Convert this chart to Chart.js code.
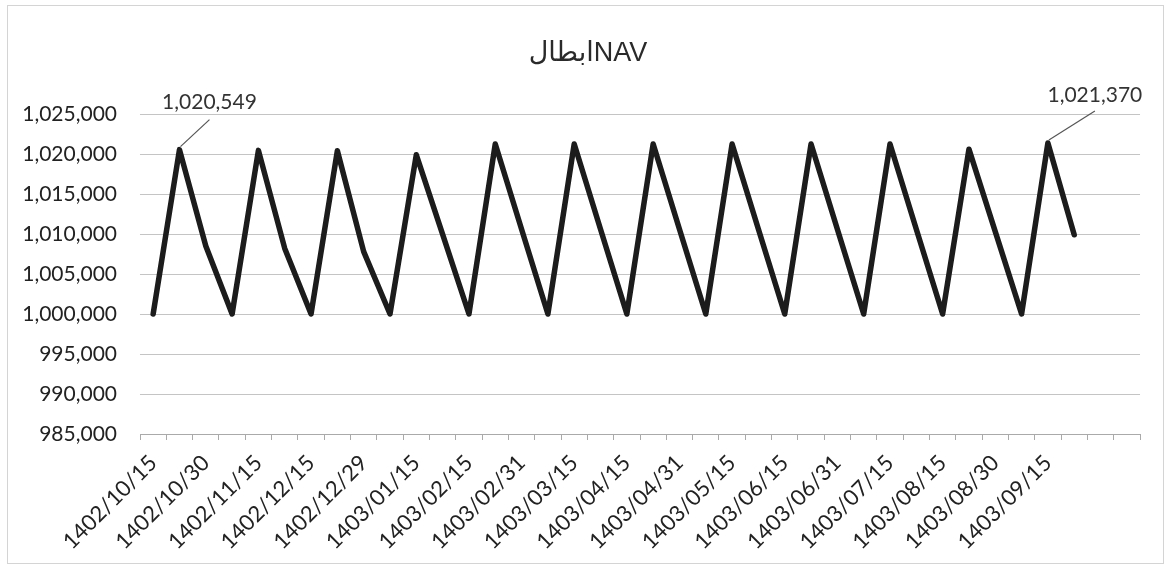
<!DOCTYPE html>
<html>
<head>
<meta charset="utf-8">
<script src="https://cdn.jsdelivr.net/npm/chart.js@4"></script>
<style>
  body { margin: 0; background: #fff; }
  #wrap { width: 1171px; height: 567px; position: relative; }
</style>
</head>
<body>
<div id="wrap"><canvas id="navChart"></canvas></div>
<script>
// tick labels shown under every second category
var tickLabels = [
  '1402/10/15', '1402/10/30', '1402/11/15', '1402/12/15', '1402/12/29',
  '1403/01/15', '1403/02/15', '1403/02/31', '1403/03/15', '1403/04/15',
  '1403/04/31', '1403/05/15', '1403/06/15', '1403/06/31', '1403/07/15',
  '1403/08/15', '1403/08/30', '1403/09/15'
]
// NAV values, one per category
var navValues = [
  1000000, 1020549, 1008500,
  1000000, 1020450, 1008200,
  1000000, 1020400, 1007800,
  1000000, 1019900, 1009950,
  1000000, 1021250, 1010600,
  1000000, 1021250, 1010600,
  1000000, 1021250, 1010600,
  1000000, 1021250, 1010600,
  1000000, 1021250, 1010600,
  1000000, 1021250, 1010600,
  1000000, 1020600, 1010300,
  1000000, 1021370, 1009900
]
var categoryCount = 38
var labelledPoints = [1, 34]   // indices that carry a value label
var chartTitle = 'ابطالNAV'

var categories = []
for (var i = 0; i < categoryCount; i++) {
  categories.push(i % 2 === 0 && tickLabels[i / 2] ? tickLabels[i / 2] : '')
}

var fmt = function (v) { return Number(v).toLocaleString('en-US') }

// frame, white background and the title (placed like the original)
var framePlugin = {
  id: 'frame',
  beforeDraw: function (chart) {
    var ctx = chart.ctx
    ctx.save()
    ctx.fillStyle = '#fff'
    ctx.fillRect(0, 0, chart.width, chart.height)
    ctx.strokeStyle = '#d4d4d4'
    ctx.lineWidth = 1
    ctx.strokeRect(7.5, 5.5, chart.width - 15, chart.height - 9)
    ctx.font = "27px 'Liberation Sans', 'DejaVu Sans', sans-serif"
    ctx.fillStyle = '#2a2a2a'
    ctx.textAlign = 'center'
    ctx.textBaseline = 'middle'
    ctx.fillText(chartTitle, 588, 54)
    ctx.restore()
  }
}

// value labels with leader lines
var offsets = { 1: [30, -47, -30], 34: [47, -48, -32] }
var valueLabels = {
  id: 'valueLabels',
  afterDatasetsDraw: function (chart) {
    var ctx = chart.ctx
    var meta = chart.getDatasetMeta(0)
    ctx.save()
    ctx.font = '21px Lato, sans-serif'
    ctx.fillStyle = '#333'
    ctx.textAlign = 'center'
    ctx.textBaseline = 'middle'
    labelledPoints.forEach(function (idx) {
      var pt = meta.data[idx]
      var o = offsets[idx] || [30, -45, -30]
      ctx.strokeStyle = '#555'
      ctx.lineWidth = 1.2
      ctx.beginPath()
      ctx.moveTo(pt.x + 1, pt.y - 3)
      ctx.lineTo(pt.x + o[0], pt.y + o[2])
      ctx.stroke()
      ctx.fillText(fmt(navValues[idx]), pt.x + o[0], pt.y + o[1])
    })
    ctx.restore()
  }
}

var ctx = document.getElementById('navChart').getContext('2d')
var navChart = new Chart(ctx, {
  type: 'line',
  data: {
    labels: categories,
    datasets: [{
      data: navValues,
      borderColor: '#1c1c1c',
      borderWidth: 5.5,
      borderJoinStyle: 'round',
      borderCapStyle: 'round',
      pointRadius: 0,
      tension: 0,
      fill: false
    }]
  },
  options: {
    responsive: true,
    maintainAspectRatio: false,
    animation: false,
    layout: { padding: { top: 114, right: 31, bottom: 0, left: 0 } },
    plugins: {
      legend: { display: false },
      tooltip: { enabled: false },
      title: { display: false }
    },
    scales: {
      x: {
        offset: true,
        afterFit: function (scale) { scale.height = 133 },
        grid: {
          offset: true,
          drawOnChartArea: false,
          drawTicks: true,
          tickLength: 6,
          color: '#aaa'
        },
        border: { display: true, color: '#aaa', width: 1 },
        ticks: {
          autoSkip: false,
          maxRotation: 45,
          minRotation: 45,
          padding: 10,
          color: '#222',
          font: { family: 'Lato, sans-serif', size: 22 }
        }
      },
      y: {
        min: 985000,
        max: 1025000,
        afterFit: function (scale) { scale.width = 140 },
        grid: { color: '#c4c4c4', lineWidth: 1, drawTicks: false },
        border: { display: false },
        ticks: {
          stepSize: 5000,
          padding: 23,
          color: '#222',
          font: { family: 'Lato, sans-serif', size: 21 },
          callback: function (v) { return fmt(v) }
        }
      }
    }
  },
  plugins: [framePlugin, valueLabels]
})
</script>
</body>
</html>
